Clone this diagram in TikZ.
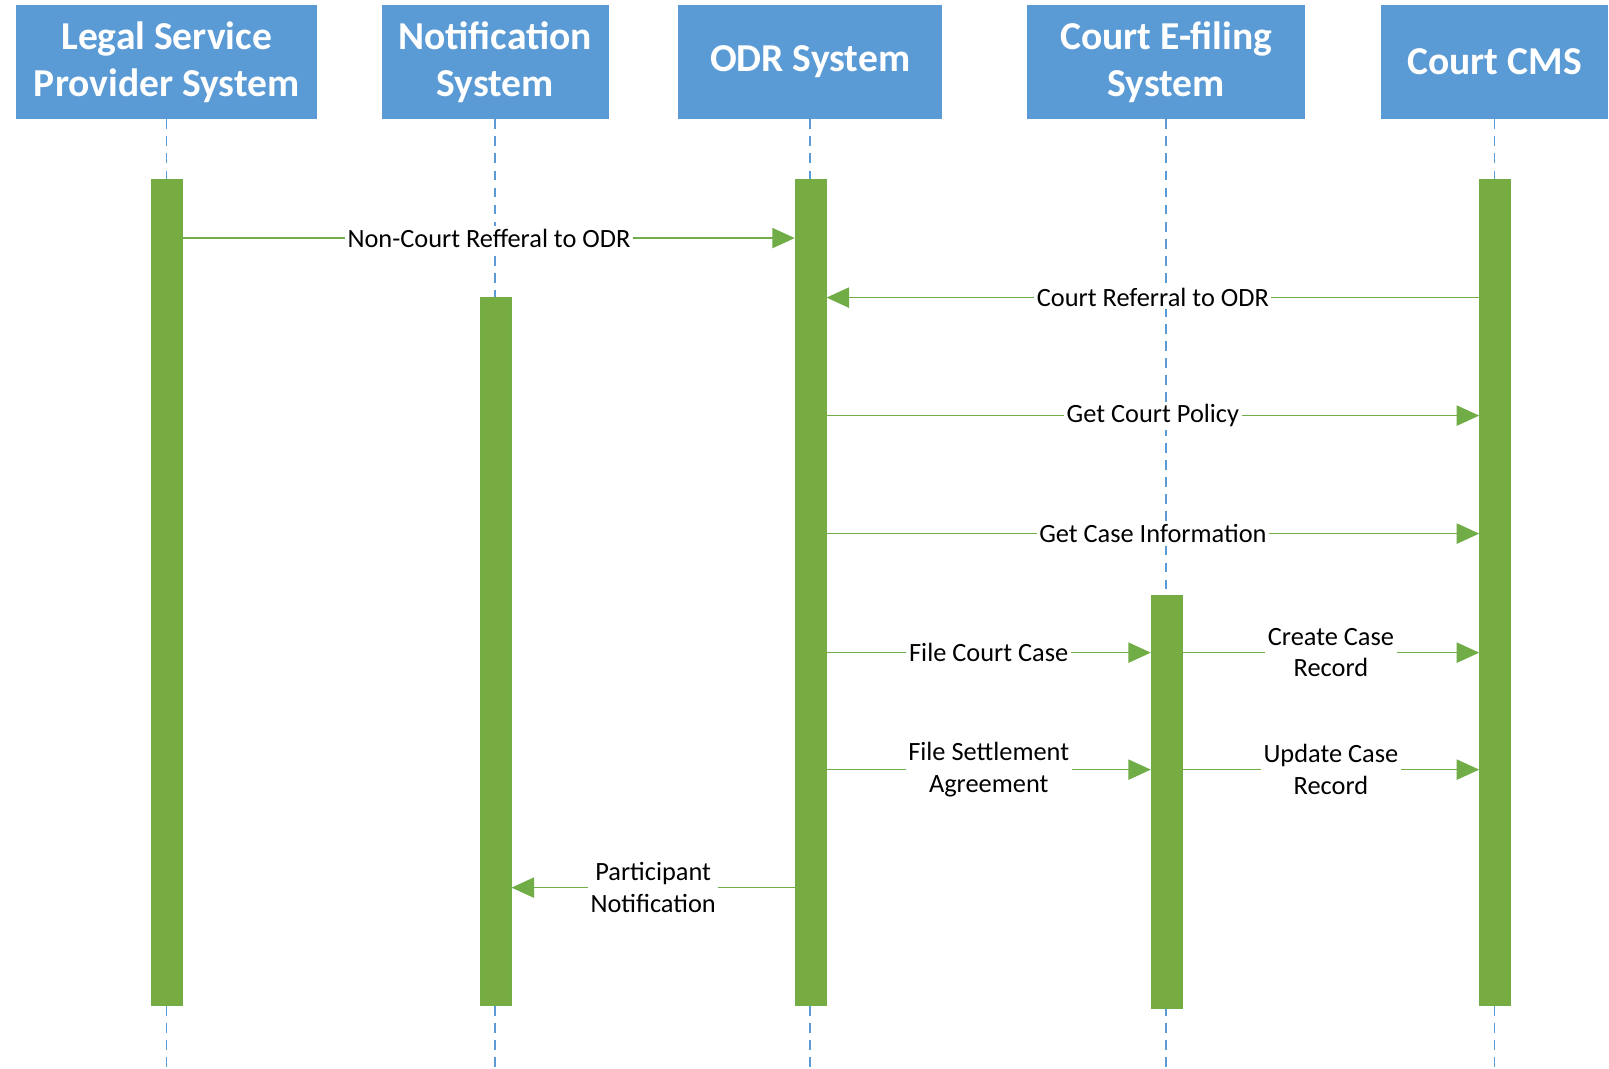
\documentclass[tikz,border=0pt]{standalone}
\usepackage{fontspec}
\setmainfont{Carlito}
\usetikzlibrary{arrows.meta, fit}

\definecolor{headblue}{RGB}{91,155,213}
\definecolor{bargreen}{RGB}{118,172,66}
\definecolor{msggreen}{RGB}{112,173,71}

\tikzset{
  head/.style={fill=headblue, text=white, align=center, inner sep=0pt, minimum height=2.278cm,
    font=\bfseries\fontsize{22.5}{27}\selectfont},
  life/.style={headblue, line width=0.85pt, dash pattern=on 5.6pt off 4.1pt},
  bar/.style={fill=bargreen, draw=msggreen, line width=0.6pt, inner sep=0pt},
  msg/.style={msggreen, line width=0.9pt, -{Triangle[length=12.8pt, width=11.5pt]}},
  lbl/.style={fill=white, align=center, inner sep=1.5pt, text=black,
    font=\fontsize{15}{18}\selectfont}
}

\begin{document}
\begin{tikzpicture}[x=0.020523cm, y=-0.020523cm]
        \useasboundingbox (0, 0) rectangle (1568, 1040.8);
        % actors
        \node[head, minimum width=6.013cm] (lsp) at (162.5, 60.5) {Legal Service\\Provider System};
        \node[head, minimum width=4.536cm] (notif) at (482.5, 60.5) {Notification\\System};
        \node[head, minimum width=5.274cm] (odr) at (789.5, 60.5) {ODR System};
        \node[head, minimum width=5.562cm] (efile) at (1136.5, 60.5) {Court E-filing\\System};
        \node[head, minimum width=4.536cm] (cms) at (1456.5, 60.5) {Court CMS};
        \coordinate (bottom) at (0, 1040);
        % lifelines
        \draw[life] (lsp.south) -- (lsp.south |- bottom);
        \draw[life] (notif.south) -- (notif.south |- bottom);
        \draw[life] (odr.south) -- (odr.south |- bottom);
        \draw[life] (efile.south) -- (efile.south |- bottom);
        \draw[life] (cms.south) -- (cms.south |- bottom);
        % activation bars
        \node[bar, fit={(148, 175) (178, 980)}] (lspbar) {};
        \node[bar, fit={(468, 290) (498, 980)}] (notifbar) {};
        \node[bar, fit={(775, 175) (805, 980)}] (odrbar) {};
        \node[bar, fit={(1122, 580) (1152, 983)}] (efilebar) {};
        \node[bar, fit={(1442, 175) (1472, 980)}] (cmsbar) {};
        % messages
        \coordinate (m1) at (0, 232);
        \coordinate (m2) at (0, 290);
        \coordinate (m3) at (0, 405);
        \coordinate (m4) at (0, 520);
        \coordinate (m5) at (0, 636);
        \coordinate (m6) at (0, 750);
        \coordinate (m7) at (0, 865);
        \draw[msg] (lspbar.east |- m1) -- (odrbar.west |- m1) node[lbl, midway]{Non-Court Refferal to ODR};
        \draw[msg] (cmsbar.west |- m2) -- (odrbar.east |- m2) node[lbl, midway]{Court Referral to ODR};
        \draw[msg] (odrbar.east |- m3) -- (cmsbar.west |- m3) node[lbl, midway]{Get Court Policy};
        \draw[msg] (odrbar.east |- m4) -- (cmsbar.west |- m4) node[lbl, midway]{Get Case Information};
        \draw[msg] (odrbar.east |- m5) -- (efilebar.west |- m5) node[lbl, midway]{File Court Case};
        \draw[msg] (efilebar.east |- m5) -- (cmsbar.west |- m5) node[lbl, midway]{Create Case\\Record};
        \draw[msg] (odrbar.east |- m6) -- (efilebar.west |- m6) node[lbl, midway]{File Settlement\\Agreement};
        \draw[msg] (efilebar.east |- m6) -- (cmsbar.west |- m6) node[lbl, midway]{Update Case\\Record};
        \draw[msg] (odrbar.west |- m7) -- (notifbar.east |- m7) node[lbl, midway]{Participant\\Notification};
\end{tikzpicture}
\end{document}
